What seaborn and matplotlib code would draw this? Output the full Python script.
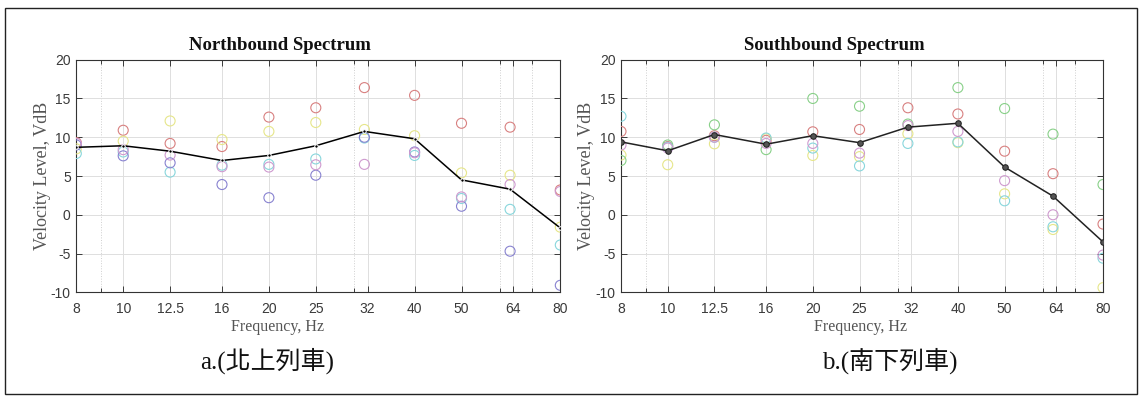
import numpy as np
import pandas as pd
import matplotlib
matplotlib.use("Agg")
import matplotlib.pyplot as plt
from matplotlib.patches import Rectangle
from matplotlib.ticker import FixedLocator, NullFormatter, FixedFormatter
import seaborn as sns

# One-third octave band centre frequencies (Hz)
freqs = [8, 10, 12.5, 16, 20, 25, 31.5, 40, 50, 63, 80]
tick_pos = [8, 10, 12.5, 16, 20, 25, 32, 40, 50, 64, 80]
tick_labels = ["8", "10", "12.5", "16", "20", "25", "32", "40", "50", "64", "80"]
y_ticks = [-10, -5, 0, 5, 10, 15, 20]

# Northbound trains: individual pass-by spectra (VdB)
nb_red = [9.3, 10.9, 9.2, 8.8, 12.6, 13.8, 16.4, 15.4, 11.8, 11.3, 3.2]
nb_yellow = [8.5, 9.5, 12.1, 9.7, 10.75, 11.9, 11.0, 10.2, 5.4, 5.1, -1.6]
nb_cyan = [7.9, 8.1, 5.5, 6.4, 6.5, 7.2, 9.9, 7.65, 2.1, 0.7, -3.9]
nb_blue = [9.0, 7.6, 6.7, 3.9, 2.2, 5.1, 10.0, 8.1, 1.1, -4.7, -9.1]
nb_magenta = [9.2, 8.4, 7.7, 6.2, 6.15, 6.45, 6.5, 8.0, 2.3, 3.9, 3.0]
nb_mean = [8.7, 8.9, 8.2, 7.0, 7.65, 8.9, 10.75, 9.8, 4.5, 3.3, -1.7]

# Southbound trains: individual pass-by spectra (VdB)
sb_red = [10.75, 8.8, 10.2, 9.6, 10.7, 11.0, 13.8, 13.0, 8.2, 5.3, -1.2]
sb_yellow = [7.7, 6.45, 9.15, 9.8, 7.65, 7.5, 10.45, 9.3, 2.7, -1.9, -9.4]
sb_green = [7.0, 9.0, 11.6, 8.4, 15.0, 14.0, 11.7, 16.4, 13.7, 10.4, 3.9]
sb_cyan = [12.7, 8.7, 10.0, 9.9, 8.6, 6.3, 9.2, 9.4, 1.8, -1.55, -5.6]
sb_magenta = [9.0, 8.6, 10.0, 9.2, 9.2, 7.95, 11.5, 10.75, 4.4, 0.0, -5.2]
sb_mean = [9.4, 8.25, 10.35, 9.1, 10.2, 9.3, 11.3, 11.8, 6.15, 2.4, -3.5]

palette = {
    "red": "#d88080",
    "yellow": "#e6e68a",
    "green": "#88d088",
    "cyan": "#88d6dc",
    "blue": "#8882d0",
    "magenta": "#cf9acf",
}


def long_frame(series):
    rows = []
    for name, vals in series.items():
        for f, v in zip(freqs, vals):
            rows.append({"freq": f, "level": v, "run": name})
    return pd.DataFrame(rows)


north = long_frame({"red": nb_red, "yellow": nb_yellow, "cyan": nb_cyan,
                    "blue": nb_blue, "magenta": nb_magenta})
south = long_frame({"red": sb_red, "yellow": sb_yellow, "green": sb_green,
                    "cyan": sb_cyan, "magenta": sb_magenta})

sns.set_style("white")
plt.rcParams["font.family"] = ["Liberation Sans", "DejaVu Sans"]

W, H = 1141, 396
fig = plt.figure(figsize=(W / 100, H / 100), dpi=100)
fig.patch.set_facecolor("white")

serif = ["Liberation Serif", "DejaVu Serif"]


def px_axes(x0, x1, y0, y1):
    return fig.add_axes([x0 / W, 1 - y1 / H, (x1 - x0) / W, (y1 - y0) / H])


def fig_text(x, y, s, **kw):
    fig.text(x / W, 1 - y / H, s, ha="center", va="center", **kw)


def style_axes(ax):
    ax.set_xscale("log")
    ax.set_xlim(8, 80)
    ax.set_ylim(-10, 20)
    ax.xaxis.set_major_locator(FixedLocator(tick_pos))
    ax.xaxis.set_major_formatter(FixedFormatter(tick_labels))
    ax.xaxis.set_minor_locator(FixedLocator([9, 30, 60, 70]))
    ax.xaxis.set_minor_formatter(NullFormatter())
    ax.set_yticks(y_ticks)
    ax.set_yticklabels([str(v) for v in y_ticks])
    ax.tick_params(which="both", direction="in", top=True, right=True,
                   bottom=True, left=True, labelsize=10, colors="#3a3a3a",
                   width=0.7)
    ax.tick_params(axis="x", pad=7)
    ax.tick_params(axis="y", pad=4)
    ax.tick_params(which="major", length=4)
    ax.tick_params(which="minor", length=3)
    ax.grid(which="major", color="#dedede", lw=0.7)
    ax.grid(which="minor", axis="x", color="#cfcfcf", lw=0.7, ls=":")
    ax.set_axisbelow(True)
    for s in ax.spines.values():
        s.set_color("#333333")
        s.set_linewidth(0.8)
    ax.set_xlabel("")
    ax.set_ylabel("Velocity Level, VdB", fontfamily=serif, fontsize=13,
                  color="#555555", labelpad=0)


def hollow(ax):
    coll = ax.collections[-1]
    fc = coll.get_facecolors()
    coll.set_edgecolors(fc)
    coll.set_facecolors("none")
    coll.set_linewidths(0.8)


# Northbound panel
ax1 = px_axes(76.3, 560.3, 59.7, 292.3)
sns.scatterplot(data=north, x="freq", y="level", hue="run", palette=palette,
                s=52, marker="o", legend=False, ax=ax1, zorder=3)
hollow(ax1)
sns.lineplot(x=freqs, y=nb_mean, color="black", lw=1.1, marker="o",
             markersize=2.5, ax=ax1, zorder=4)
style_axes(ax1)

# Southbound panel
ax2 = px_axes(621, 1103, 59.7, 292.3)
sns.scatterplot(data=south, x="freq", y="level", hue="run", palette=palette,
                s=52, marker="o", legend=False, ax=ax2, zorder=3)
hollow(ax2)
sns.lineplot(x=freqs, y=sb_mean, color="#222222", lw=1.1, marker="o",
             markersize=4, markerfacecolor="#555555",
             markeredgecolor="#222222", ax=ax2, zorder=4)
style_axes(ax2)

# Panel titles and frequency labels
title_kw = dict(fontfamily=serif, fontweight="bold", fontsize=13.5,
                color="#111111")
fig_text(280, 45, "Northbound Spectrum", **title_kw)
fig_text(834, 45, "Southbound Spectrum", **title_kw)
xlab_kw = dict(fontfamily=serif, fontsize=11.5, color="#555555")
fig_text(278, 327, "Frequency, Hz", **xlab_kw)
fig_text(861, 327, "Frequency, Hz", **xlab_kw)

# Sub-figure captions
cap_font = ["Liberation Serif", "Noto Sans CJK TC"]
fig_text(267, 361, "a.(北上列車)", fontsize=18, family=cap_font,
         color="#111111")
fig_text(890, 361, "b.(南下列車)", fontsize=18, family=cap_font,
         color="#111111")

# Outer frame
fig.add_artist(Rectangle((5 / W, 2 / H), 1132 / W, 386 / H,
                         transform=fig.transFigure, fill=False,
                         ec="#222222", lw=1.0))

fig.savefig("out.png", dpi=100, facecolor="white")
